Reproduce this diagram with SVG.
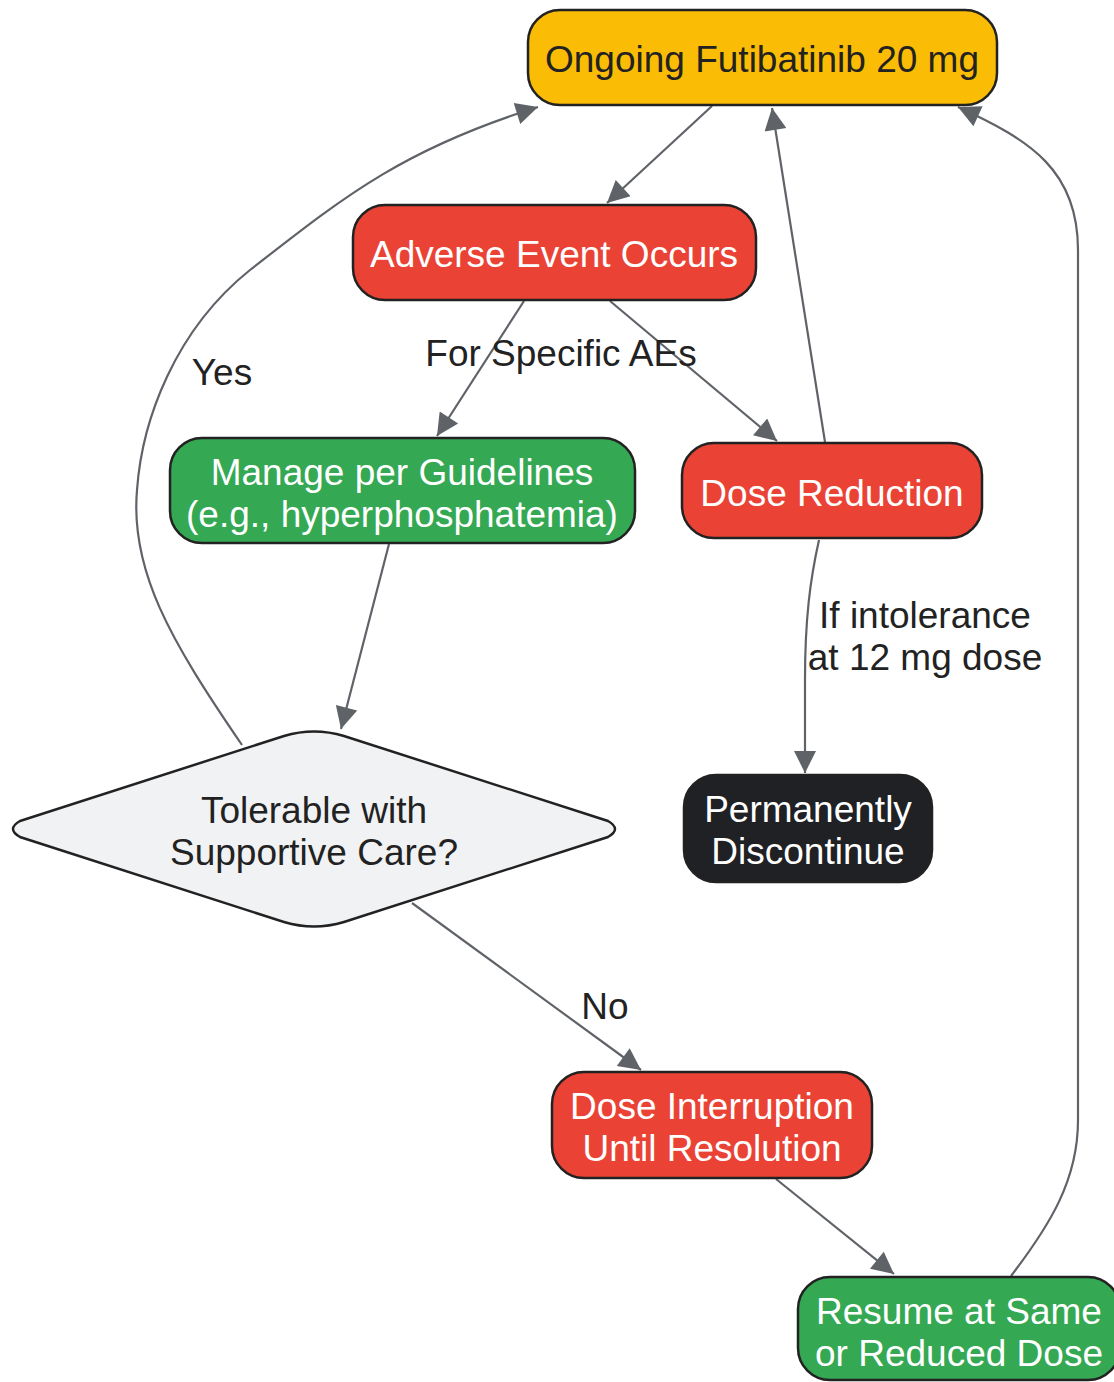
<svg xmlns="http://www.w3.org/2000/svg" width="1114" height="1382" viewBox="0 0 1114 1382">
<style>
.node{stroke:#222222;stroke-width:2.5}
.t{font-family:"Liberation Sans",Arial,sans-serif;font-size:37px;text-anchor:middle}
.w{fill:#ffffff}
.d{fill:#222222}
.e{fill:none;stroke:#5f6368;stroke-width:2.2}
.lbl{font-family:"Liberation Sans",Arial,sans-serif;font-size:37px;fill:#222222;text-anchor:middle}
</style>
<defs>
<marker id="arr" viewBox="0 0 10 10" refX="10" refY="5" markerWidth="28" markerHeight="22" markerUnits="userSpaceOnUse" orient="auto">
<path d="M0,0 L10,5 L0,10 z" fill="#5f6368"/>
</marker>
</defs>
<rect width="1114" height="1382" fill="#ffffff"/>
<g id="edges">
<path class="e" d="M712,106 L607,203" marker-end="url(#arr)"/>
<path class="e" d="M524,301 L437,436" marker-end="url(#arr)"/>
<path class="e" d="M610,301 L777,441" marker-end="url(#arr)"/>
<path class="e" d="M825,442 L772,108" marker-end="url(#arr)"/>
<path class="e" d="M389,544 L341,729" marker-end="url(#arr)"/>
<path class="e" d="M242,745 C170,640 130,570 137,490 C142,420 175,330 250,270 C340,200 400,150 538,107" marker-end="url(#arr)"/>
<path class="e" d="M412,903 L641,1070" marker-end="url(#arr)"/>
<path class="e" d="M776,1179 L894,1274" marker-end="url(#arr)"/>
<path class="e" d="M1011,1276 C1050,1225 1078,1180 1078,1120 L1078,250 C1078,170 1030,140 958,107" marker-end="url(#arr)"/>
<path class="e" d="M819,540 C810,580 805,620 805,680 L805,773" marker-end="url(#arr)"/>
<text class="lbl" x="561" y="366">For Specific AEs</text>
<text class="lbl" x="222" y="385">Yes</text>
<text class="lbl" x="605" y="1019">No</text>
<text class="lbl" x="925" y="628">If intolerance</text>
<text class="lbl" x="925" y="670">at 12 mg dose</text>
</g>
<g id="ongoing">
<rect class="node" x="528" y="10" width="469" height="95" rx="32" fill="#FBBC05"/>
<text class="t d" x="762" y="72">Ongoing Futibatinib 20 mg</text>
</g>
<g id="adverse">
<rect class="node" x="353" y="205" width="403" height="95" rx="32" fill="#EA4335"/>
<text class="t w" x="554" y="267">Adverse Event Occurs</text>
</g>
<g id="manage">
<rect class="node" x="170" y="438" width="465" height="105" rx="32" fill="#34A853"/>
<text class="t w" x="402" y="485">Manage per Guidelines</text>
<text class="t w" x="402" y="527">(e.g., hyperphosphatemia)</text>
</g>
<g id="reduction">
<rect class="node" x="682" y="443" width="300" height="95" rx="32" fill="#EA4335"/>
<text class="t w" x="832" y="506">Dose Reduction</text>
</g>
<g id="tolerable">
<path class="node" fill="#F1F2F4" d="M20,821 L284,736 Q314,727 344,736 L608,821 Q622,829 608,837 L344,922 Q314,931 284,922 L20,837 Q6,829 20,821 Z"/>
<text class="t d" x="314" y="823">Tolerable with</text>
<text class="t d" x="314" y="865">Supportive Care?</text>
</g>
<g id="discontinue">
<rect class="node" x="684" y="775" width="248" height="107" rx="32" fill="#202124"/>
<text class="t w" x="808" y="822">Permanently</text>
<text class="t w" x="808" y="864">Discontinue</text>
</g>
<g id="interruption">
<rect class="node" x="552" y="1072" width="320" height="106" rx="32" fill="#EA4335"/>
<text class="t w" x="712" y="1119">Dose Interruption</text>
<text class="t w" x="712" y="1161">Until Resolution</text>
</g>
<g id="resume">
<rect class="node" x="798" y="1277" width="322" height="103" rx="32" fill="#34A853"/>
<text class="t w" x="959" y="1324">Resume at Same</text>
<text class="t w" x="959" y="1366">or Reduced Dose</text>
</g>
</svg>
